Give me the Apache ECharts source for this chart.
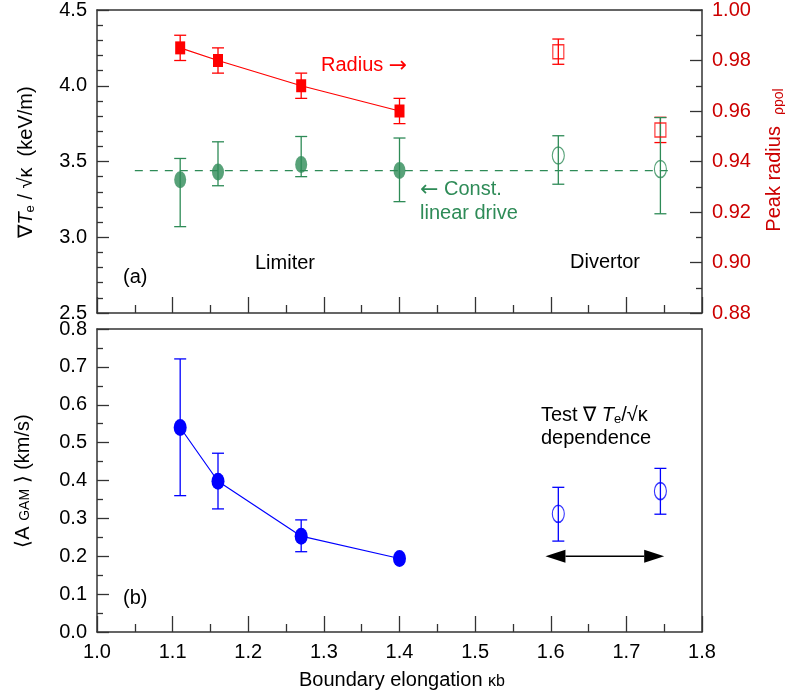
<!DOCTYPE html>
<html>
<head>
<meta charset="utf-8">
<script src="https://cdn.jsdelivr.net/npm/echarts@6/dist/echarts.min.js"></script>
<style>
  html, body { margin: 0; padding: 0; background: #fff; }
  #chart { width: 785px; height: 696px; }
</style>
</head>
<body>
<div id="chart"></div>
<script>
// Boundary elongation of the limiter and divertor discharges
const kappaLim = [1.11, 1.16, 1.27, 1.40];
const kappaDiv = [1.61, 1.745];

// (a) peak radius (right axis)
const radiusLim   = [0.985, 0.980, 0.970, 0.960];
const radiusLimLo = [0.980, 0.975, 0.965, 0.955];
const radiusLimHi = [0.990, 0.985, 0.975, 0.965];
const radiusDiv   = [0.9835, 0.9525];
const radiusDivLo = [0.9785, 0.9475];
const radiusDivHi = [0.9885, 0.9575];

// (a) normalised temperature gradient (left axis)
const driveLim   = [3.38, 3.43, 3.48, 3.44];
const driveLimLo = [3.07, 3.34, 3.40, 3.235];
const driveLimHi = [3.52, 3.63, 3.665, 3.655];
const driveDiv   = [3.54, 3.45];
const driveDivLo = [3.35, 3.155];
const driveDivHi = [3.67, 3.79];
const constDrive = 3.44;
const constDriveSpan = [1.05, 1.76];

// (b) GAM amplitude
const gamLim   = [0.54, 0.398, 0.253, 0.194];
const gamLimLo = [0.36, 0.325, 0.212, null];
const gamLimHi = [0.721, 0.472, 0.296, null];
const gamDiv   = [0.312, 0.372];
const gamDivLo = [0.24, 0.311];
const gamDivHi = [0.382, 0.432];

// double arrow spanning the divertor test
const testArrowX = [1.593, 1.750];
const testArrowY = 0.2;

const F = '"Liberation Sans", Arial, sans-serif';
const FA = '"DejaVu Sans", sans-serif';
const RED = '#ff0000';
const RED_AXIS = '#cc0000';
const GREEN = '#2e8b57';
const BLUE = '#0000ff';
const AX = '#333';

const pts = (xs, ys) => xs.map((x, i) => [x, ys[i]]);
const bars = (xs, lo, hi) => xs.map((x, i) => [x, lo[i], hi[i]]).filter(d => d[1] != null);

function errorBars(color, cap) {
  return function (params, api) {
    const x = api.value(0);
    const a = api.coord([x, api.value(2)]);
    const b = api.coord([x, api.value(1)]);
    const style = { stroke: color, lineWidth: 1.3, fill: null };
    return {
      type: 'group',
      children: [
        { type: 'line', shape: { x1: a[0], y1: a[1], x2: b[0], y2: b[1] }, style },
        { type: 'line', shape: { x1: a[0] - cap, y1: a[1], x2: a[0] + cap, y2: a[1] }, style },
        { type: 'line', shape: { x1: b[0] - cap, y1: b[1], x2: b[0] + cap, y2: b[1] }, style }
      ]
    };
  };
}

function doubleArrow(params, api) {
  const l = api.coord([api.value(0), api.value(2)]);
  const r = api.coord([api.value(1), api.value(2)]);
  const hl = 20, hh = 6.5;
  return {
    type: 'group',
    children: [
      { type: 'line', shape: { x1: l[0] + hl, y1: l[1], x2: r[0] - hl, y2: r[1] },
        style: { stroke: '#000', lineWidth: 1.5 } },
      { type: 'polygon', shape: { points: [[l[0], l[1]], [l[0] + hl, l[1] - hh], [l[0] + hl, l[1] + hh]] },
        style: { fill: '#000' } },
      { type: 'polygon', shape: { points: [[r[0], r[1]], [r[0] - hl, r[1] - hh], [r[0] - hl, r[1] + hh]] },
        style: { fill: '#000' } }
    ]
  };
}

function xAxisBase(grid, showLabel) {
  return {
    type: 'value', gridIndex: grid, min: 1.0, max: 1.8, interval: 0.1, position: 'bottom',
    axisLine: { show: true, onZero: false, lineStyle: { color: AX, width: 1.5 } },
    axisTick: { show: true, inside: true, length: 16, lineStyle: { color: AX, width: 1.3 } },
    minorTick: { show: true, splitNumber: 2, length: 8, lineStyle: { color: AX, width: 1.3 } },
    axisLabel: { show: showLabel, margin: 10, fontSize: 20, fontFamily: F, color: '#000',
                 formatter: v => v.toFixed(1) },
    splitLine: { show: false }
  };
}
function frameAxis(grid, pos) {
  return {
    type: 'value', gridIndex: grid, position: pos,
    min: 0, max: 1,
    axisLine: { show: true, onZero: false, lineStyle: { color: AX, width: 1.5 } },
    axisTick: { show: false }, axisLabel: { show: false }, splitLine: { show: false }
  };
}
function yAxisBase(grid, pos, min, max, interval, minorSplit, digits, color) {
  return {
    type: 'value', gridIndex: grid, position: pos, min, max, interval,
    axisLine: { show: true, onZero: false, lineStyle: { color: AX, width: 1.5 } },
    axisTick: { show: true, inside: true, length: 12, lineStyle: { color: AX, width: 1.3 } },
    minorTick: { show: true, splitNumber: minorSplit, length: 6, lineStyle: { color: AX, width: 1.3 } },
    axisLabel: { margin: 10, fontSize: 20, fontFamily: F, color, formatter: v => v.toFixed(digits) },
    splitLine: { show: false }
  };
}

function richSet(fill) {
  return {
    n: { fontSize: 20, fontFamily: F, fill, lineHeight: 20, verticalAlign: 'top' },
    i: { fontSize: 20, fontFamily: F, fill, fontStyle: 'italic', lineHeight: 20, verticalAlign: 'top' },
    s: { fontSize: 13, fontFamily: F, fill, lineHeight: 13, verticalAlign: 'top', padding: [8, 0, 0, 0] },
    m: { fontSize: 14, fontFamily: F, fill, lineHeight: 14, verticalAlign: 'top', padding: [5, 0, 0, 0] },
    k: { fontSize: 16, fontFamily: F, fill, lineHeight: 16, verticalAlign: 'top', padding: [4, 0, 0, 0] },
    p: { fontSize: 14, fontFamily: F, fill, lineHeight: 14, verticalAlign: 'top', padding: [8, 0, 0, 0] },
    a: { fontSize: 22, fontFamily: FA, fill, lineHeight: 20, verticalAlign: 'top' }
  };
}
function label(x, y, text, fill, extra) {
  const el = {
    type: 'text', x, y, z: 10,
    style: { text, rich: richSet(fill), align: 'left', verticalAlign: 'middle',
             fontSize: 20, fontFamily: F, fill }
  };
  if (extra) {
    if (extra.rotation != null) el.rotation = extra.rotation;
    if (extra.align) el.style.align = extra.align;
  }
  return el;
}
function plain(x, y, text, fill) {
  return { type: 'text', x, y, z: 10,
           style: { text, fontSize: 20, fontFamily: F, fill, align: 'left', verticalAlign: 'middle' } };
}

const chart = echarts.init(document.getElementById('chart'), null, { renderer: 'canvas' });

chart.setOption({
  animation: false,
  backgroundColor: '#fff',
  grid: [
    { left: 97, top: 10, width: 605, height: 303 },
    { left: 97, top: 329, width: 605, height: 303 }
  ],
  xAxis: [
    xAxisBase(0, false),
    frameAxis(0, 'top'),
    xAxisBase(1, true),
    frameAxis(1, 'top')
  ],
  yAxis: [
    yAxisBase(0, 'left', 2.5, 4.5, 0.5, 5, 1, '#000'),
    yAxisBase(0, 'right', 0.88, 1.00, 0.02, 2, 2, RED_AXIS),
    yAxisBase(1, 'left', 0, 0.8, 0.1, 2, 1, '#000'),
    frameAxis(1, 'right')
  ],
  series: [
    // (a) peak radius
    { type: 'custom', xAxisIndex: 0, yAxisIndex: 1, z: 1,
      renderItem: errorBars(RED, 6), encode: { x: 0, y: [1, 2] },
      data: bars(kappaLim.concat(kappaDiv), radiusLimLo.concat(radiusDivLo), radiusLimHi.concat(radiusDivHi)) },
    { type: 'line', xAxisIndex: 0, yAxisIndex: 1, z: 3,
      data: pts(kappaLim, radiusLim), symbol: 'rect', symbolSize: [10, 13], showAllSymbol: true,
      itemStyle: { color: RED }, lineStyle: { color: RED, width: 1.2 } },
    { type: 'scatter', xAxisIndex: 0, yAxisIndex: 1, z: 3,
      data: pts(kappaDiv, radiusDiv), symbol: 'rect', symbolSize: [11, 14],
      itemStyle: { color: 'rgba(0,0,0,0)', borderColor: RED, borderWidth: 1.3 } },

    // (a) temperature gradient drive
    { type: 'line', xAxisIndex: 0, yAxisIndex: 0, z: 1,
      data: constDriveSpan.map(x => [x, constDrive]), symbol: 'none',
      lineStyle: { color: GREEN, width: 1.3, type: [8, 7] } },
    { type: 'custom', xAxisIndex: 0, yAxisIndex: 0, z: 1,
      renderItem: errorBars(GREEN, 6), encode: { x: 0, y: [1, 2] },
      data: bars(kappaLim.concat(kappaDiv), driveLimLo.concat(driveDivLo), driveLimHi.concat(driveDivHi)) },
    { type: 'scatter', xAxisIndex: 0, yAxisIndex: 0, z: 3,
      data: pts(kappaLim, driveLim), symbol: 'circle', symbolSize: [12, 17],
      itemStyle: { color: GREEN } },
    { type: 'scatter', xAxisIndex: 0, yAxisIndex: 0, z: 3,
      data: pts(kappaDiv, driveDiv), symbol: 'circle', symbolSize: [12, 17],
      itemStyle: { color: 'rgba(0,0,0,0)', borderColor: GREEN, borderWidth: 1.3 } },

    // (b) GAM amplitude
    { type: 'custom', xAxisIndex: 2, yAxisIndex: 2, z: 1,
      renderItem: errorBars(BLUE, 6), encode: { x: 0, y: [1, 2] },
      data: bars(kappaLim.concat(kappaDiv), gamLimLo.concat(gamDivLo), gamLimHi.concat(gamDivHi)) },
    { type: 'line', xAxisIndex: 2, yAxisIndex: 2, z: 3,
      data: pts(kappaLim, gamLim), symbol: 'circle', symbolSize: [13, 17], showAllSymbol: true,
      itemStyle: { color: BLUE }, lineStyle: { color: BLUE, width: 1.2 } },
    { type: 'scatter', xAxisIndex: 2, yAxisIndex: 2, z: 3,
      data: pts(kappaDiv, gamDiv), symbol: 'circle', symbolSize: [12, 17],
      itemStyle: { color: 'rgba(0,0,0,0)', borderColor: BLUE, borderWidth: 1.3 } },
    { type: 'custom', xAxisIndex: 2, yAxisIndex: 2, z: 2,
      renderItem: doubleArrow, encode: { x: [0, 1], y: 2 },
      data: [[testArrowX[0], testArrowX[1], testArrowY]] }
  ],
  graphic: [
    // axis titles
    label(26, 162, '{n|∇}{i|T}{s|e}{n| / √κ  (keV/m)}', '#000', { rotation: Math.PI / 2, align: 'center' }),
    label(774, 160, '{n|Peak radius  }{p|ρpol}', RED_AXIS, { rotation: Math.PI / 2, align: 'center' }),
    label(23, 481, '{n|⟨A }{m|GAM}{n| ⟩ (km/s)}', '#000', { rotation: Math.PI / 2, align: 'center' }),
    label(402, 680, '{n|Boundary elongation }{k|κb}', '#000', { align: 'center' }),

    // annotations, panel (a)
    label(321, 65, '{n|Radius }{a|→}', RED),
    label(420, 189, '{a|←}{n| Const.}', GREEN),
    plain(420, 213, 'linear drive', GREEN),
    plain(255, 263, 'Limiter', '#000'),
    plain(570, 262, 'Divertor', '#000'),
    plain(123, 277, '(a)', '#000'),

    // annotations, panel (b)
    plain(123, 598, '(b)', '#000'),
    label(541, 415, '{n|Test ∇ }{i|T}{s|e}{n|/√κ}', '#000'),
    plain(541, 438, 'dependence', '#000')
  ]
});
</script>
</body>
</html>
